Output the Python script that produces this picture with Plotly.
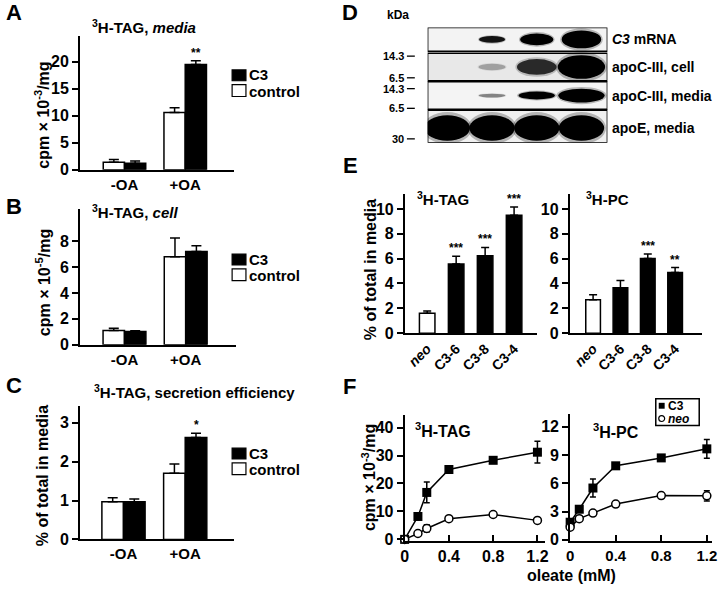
import plotly.graph_objects as go

W, H = 722, 594
FONT = "Liberation Sans, Arial, sans-serif"

# ---------------- data ----------------
oa_groups = ["-OA", "+OA"]

a_control = [1.4, 10.6]
a_control_err = [0.5, 0.9]
a_c3 = [1.2, 19.5]
a_c3_err = [0.4, 0.7]
a_c3_sig = ["", "**"]

b_control = [1.1, 6.8]
b_control_err = [0.17, 1.45]
b_c3 = [1.02, 7.2]
b_c3_err = [0.06, 0.45]

c_control = [0.97, 1.7]
c_control_err = [0.1, 0.24]
c_c3 = [0.97, 2.62]
c_c3_err = [0.07, 0.11]
c_c3_sig = ["", "*"]

blot_lanes = ["neo", "C3-6", "C3-8", "C3-4"]
blot_rows = ["<i>C3</i> mRNA", "apoC-III, cell", "apoC-III, media", "apoE, media"]
band_c3_mrna = [0.0, 0.3, 0.6, 1.0]
band_apoc3_cell = [0.02, 0.2, 0.6, 1.0]
band_apoc3_media = [0.02, 0.2, 0.5, 1.0]
band_apoe_media = [1.0, 1.0, 1.0, 1.0]
kda_labels = ["14.3", "6.5", "14.3", "6.5", "30"]

e_lines = ["<i>neo</i>", "C3-6", "C3-8", "C3-4"]
e_tag = [1.6, 5.57, 6.23, 9.5]
e_tag_err = [0.18, 0.62, 0.67, 0.65]
e_tag_sig = ["", "***", "***", "***"]
e_pc = [2.7, 3.66, 6.02, 4.88]
e_pc_err = [0.4, 0.58, 0.35, 0.4]
e_pc_sig = ["", "", "***", "**"]

f_tag_oleate = [0, 0.12, 0.2, 0.4, 0.8, 1.2]
f_tag_c3 = [0, 8.2, 16.8, 25.0, 28.3, 31.2]
f_tag_c3_err = [0.3, 0.8, 3.7, 0.8, 0.8, 3.9]
f_tag_neo = [0, 2.1, 3.9, 7.4, 8.9, 6.8]
f_tag_neo_err = [0.2, 0.5, 1.3, 0.6, 1.0, 0.8]

f_pc_oleate = [0, 0.08, 0.2, 0.4, 0.8, 1.2]
f_pc_c3 = [1.87, 3.25, 5.5, 7.86, 8.7, 9.66]
f_pc_c3_err = [0.3, 0.3, 0.95, 0.3, 0.2, 1.0]
f_pc_neo = [1.35, 2.25, 2.84, 3.8, 4.7, 4.67]
f_pc_neo_err = [0.15, 0.15, 0.2, 0.2, 0.2, 0.55]

f_tag_ticks = [0, 10, 20, 30, 40]
f_pc_ticks = [0, 3, 6, 9, 12]
f_x_ticks = [0, 0.4, 0.8, 1.2]
f_x_ticktext = ["0", "0.4", "0.8", "1.2"]


# ---------------- helpers ----------------
def fx(p):
    return p / W


def fy(p):
    return 1 - p / H


def bfont(size, family=FONT):
    return dict(family=family, size=size, color="black", weight="bold")


def ann(text, x, y, size=15, xanchor="center", yanchor="middle", angle=0):
    return dict(text=text, x=fx(x), y=fy(y), xref="paper", yref="paper",
                showarrow=False, xanchor=xanchor, yanchor=yanchor,
                textangle=angle, font=bfont(size), borderpad=0)


def yax(dom_bottom, dom_top, rng, tickvals, anchor, size=16):
    return dict(domain=[fy(dom_bottom), fy(dom_top)], range=rng, anchor=anchor,
                showline=True, linecolor="black", linewidth=2, ticks="outside",
                ticklen=6, tickwidth=2, tickcolor="black", showgrid=False,
                zeroline=False, tickvals=tickvals, tickfont=bfont(size))


def xax(dom_left, dom_right, rng, tickvals, ticktext, anchor, size=15, angle=0, ticks=""):
    return dict(domain=[fx(dom_left), fx(dom_right)], range=rng, anchor=anchor,
                showline=True, linecolor="black", linewidth=2, ticks=ticks,
                ticklen=6, tickwidth=2, tickcolor="black",
                showgrid=False, zeroline=False, tickvals=tickvals,
                ticktext=ticktext, tickfont=bfont(size), tickangle=angle)


fig = go.Figure()
annotations = []
shapes = []

# ---------------- panels A, B, C (grouped bars) ----------------
BW = 0.35
abc = [
    ("x", "y", a_control, a_control_err, a_c3, a_c3_err, a_c3_sig),
    ("x2", "y2", b_control, b_control_err, b_c3, b_c3_err, None),
    ("x3", "y3", c_control, c_control_err, c_c3, c_c3_err, c_c3_sig),
]
for xa, ya, ctl, ctl_e, c3, c3_e, sig in abc:
    fig.add_trace(go.Bar(x=[0, 1], y=ctl, xaxis=xa, yaxis=ya, width=BW, offset=-BW,
                         marker=dict(color="white", line=dict(color="black", width=1.5)),
                         error_y=dict(type="data", symmetric=False, array=ctl_e,
                                      arrayminus=[0, 0], color="black", thickness=1.5, width=5),
                         showlegend=False))
    fig.add_trace(go.Bar(x=[0, 1], y=c3, xaxis=xa, yaxis=ya, width=BW, offset=0,
                         marker=dict(color="black", line=dict(color="black", width=1.5)),
                         error_y=dict(type="data", symmetric=False, array=c3_e,
                                      arrayminus=[0, 0], color="black", thickness=1.5, width=5),
                         showlegend=False))
    if sig:
        for i, s in enumerate(sig):
            if s:
                annotations.append(dict(text=s, x=i + BW / 2, y=c3[i] + c3_e[i], xref=xa, yref=ya,
                                        showarrow=False, yanchor="bottom", yshift=-1,
                                        font=bfont(12)))

fig.update_layout(
    xaxis=xax(77, 233, [-0.732, 1.805], [0, 1], oa_groups, "y"),
    yaxis=yax(172.3, 37, [0, 24.7], [0, 5, 10, 15, 20], "x"),
    xaxis2=xax(77, 235, [-0.726, 1.823], [0, 1], oa_groups, "y2"),
    yaxis2=yax(350, 212, [0, 10.5], [0, 2, 4, 6, 8], "x2"),
    xaxis3=xax(77, 233, [-0.704, 1.792], [0, 1], oa_groups, "y3"),
    yaxis3=yax(547.7, 412, [0, 3.44], [0, 1, 2, 3], "x3"),
)

# titles, y labels, legends A-C
annotations += [
    ann("<sup>3</sup>H-TAG, <i>media</i>", 88, 27, 15, xanchor="left"),
    ann("<sup>3</sup>H-TAG, <i>cell</i>", 88, 215, 15, xanchor="left"),
    ann("<sup>3</sup>H-TAG, secretion efficiency", 90, 398, 15, xanchor="left"),
    ann("cpm × 10<sup>-3</sup>/mg", 39, 117, 16, angle=-90),
    ann("cpm × 10<sup>-5</sup>/mg", 39, 287, 16, angle=-90),
    ann("% of total in media", 39, 483, 16, angle=-90),
]
for top in (71, 258, 455):
    shapes.append(dict(type="rect", xref="paper", yref="paper", x0=fx(231), x1=fx(245),
                       y0=fy(top), y1=fy(top + 11), fillcolor="black",
                       line=dict(color="black", width=1.2)))
    shapes.append(dict(type="rect", xref="paper", yref="paper", x0=fx(231), x1=fx(245),
                       y0=fy(top + 15), y1=fy(top + 27), fillcolor="white",
                       line=dict(color="black", width=1.2)))
    annotations.append(ann("C3", 247, top + 5, 15, xanchor="left"))
    annotations.append(ann("control", 247, top + 22, 15, xanchor="left"))

# panel letters
for letter, x, y in [("A", 10, 13), ("B", 10, 210), ("C", 10, 391),
                     ("D", 350, 13), ("E", 351, 168), ("F", 350, 392)]:
    annotations.append(ann(letter, x, y, 22))

# ---------------- panel D (blot) ----------------
LANE_PX = 45.27
fig.add_trace(go.Scatter(x=[0, 3], y=[40, 131], xaxis="x4", yaxis="y4", mode="markers",
                         marker=dict(size=1, color="rgba(0,0,0,0)"), hoverinfo="skip",
                         showlegend=False))
fig.update_layout(
    xaxis4=dict(domain=[fx(429), fx(611)], range=[-0.44, 3.58], visible=False, anchor="y4"),
    yaxis4=dict(domain=[fy(145), fy(28)], range=[145, 28], visible=False, anchor="x4"),
)
row_box = [(28, 52), (54, 82), (83, 111), (112, 145)]
row_center = [40, 68, 97, 130]
row_wmax = [40, 48, 47, 46]
row_hmax = [18, 24, 14, 26]
row_gain = [3.0, 1.3, 2.0, 1.0]
row_bg = ["#f3f3f3", "#e8e8e8", "#f4f4f4", "#f0f0f0"]
row_bands = [band_c3_mrna, band_apoc3_cell, band_apoc3_media, band_apoe_media]

for (t, b), bg in zip(row_box, row_bg):
    shapes.append(dict(type="rect", xref="x4", yref="y4", x0=-0.44, x1=3.58, y0=t, y1=b,
                       fillcolor=bg, line=dict(width=0)))
for r, bands in enumerate(row_bands):
    for lane, v in enumerate(bands):
        if v <= 0.03:
            continue
        dark = min(1.0, row_gain[r] * v)
        w = row_wmax[r] * v ** 0.35
        h = max(3.0, row_hmax[r] * v ** 0.8)
        for scale_w, scale_h, op in [(1.08, 1.25, 0.25 * dark), (1.0, 1.0, dark)]:
            hw = w * scale_w / 2 / LANE_PX
            hh = h * scale_h / 2
            shapes.append(dict(type="circle", xref="x4", yref="y4",
                               x0=lane - hw, x1=lane + hw,
                               y0=row_center[r] - hh, y1=row_center[r] + hh,
                               fillcolor="black", opacity=op, line=dict(width=0)))
for t, b in row_box:
    shapes.append(dict(type="rect", xref="x4", yref="y4", x0=-0.44, x1=3.58, y0=t, y1=b,
                       fillcolor="rgba(0,0,0,0)", line=dict(color="black", width=1.5)))
for i, lbl in enumerate(blot_lanes):
    annotations.append(dict(text=lbl, x=i, y=15, xref="x4", yref="y4", showarrow=False,
                            font=bfont(15)))
for r, lbl in enumerate(blot_rows):
    annotations.append(ann(lbl, 615, row_center[r], 14, xanchor="left"))
annotations.append(ann("kDa", 399, 15, 12))
for lbl, y in zip(kda_labels, [57, 79, 90, 110, 141]):
    annotations.append(ann(lbl, 406, y, 11, xanchor="right"))
    shapes.append(dict(type="line", xref="paper", yref="paper", x0=fx(408), x1=fx(416),
                       y0=fy(y), y1=fy(y), line=dict(color="black", width=1.3)))

# ---------------- panel E ----------------
EW = 0.536
for xa, ya, vals, errs, sig in [("x5", "y5", e_tag, e_tag_err, e_tag_sig),
                                 ("x6", "y6", e_pc, e_pc_err, e_pc_sig)]:
    fig.add_trace(go.Bar(x=[0, 1, 2, 3], y=vals, xaxis=xa, yaxis=ya, width=EW, offset=-EW / 2,
                         marker=dict(color=["white", "black", "black", "black"],
                                     line=dict(color="black", width=1.5)),
                         error_y=dict(type="data", symmetric=False, array=errs,
                                      arrayminus=[0, 0, 0, 0], color="black",
                                      thickness=1.5, width=4),
                         showlegend=False))
    for i, s in enumerate(sig):
        if s:
            annotations.append(dict(text=s, x=i, y=vals[i] + errs[i], xref=xa, yref=ya,
                                    showarrow=False, yanchor="bottom", yshift=-1,
                                    font=bfont(12)))
fig.update_layout(
    xaxis5=xax(406, 540, [-0.768, 3.80], [0, 1, 2, 3], e_lines, "y5", size=14, angle=-45),
    yaxis5=yax(338.3, 197, [0, 11.2], [0, 2, 4, 6, 8, 10], "x5"),
    xaxis6=xax(573, 707, [-0.85, 3.99], [0, 1, 2, 3], e_lines, "y6", size=14, angle=-45),
    yaxis6=yax(338.3, 197, [0, 11.2], [0, 2, 4, 6, 8, 10], "x6"),
)
annotations += [
    ann("<sup>3</sup>H-TAG", 417, 202, 15, xanchor="left"),
    ann("<sup>3</sup>H-PC", 588, 202, 15, xanchor="left"),
    ann("% of total in media", 371, 274, 16, angle=-90),
]

# ---------------- panel F ----------------
for xa, ya, xs, c3, c3e, neo, neoe in [
        ("x7", "y7", f_tag_oleate, f_tag_c3, f_tag_c3_err, f_tag_neo, f_tag_neo_err),
        ("x8", "y8", f_pc_oleate, f_pc_c3, f_pc_c3_err, f_pc_neo, f_pc_neo_err)]:
    fig.add_trace(go.Scatter(x=xs, y=c3, xaxis=xa, yaxis=ya, mode="lines+markers",
                             line=dict(color="black", width=1.5),
                             marker=dict(symbol="square", size=9, color="black"),
                             error_y=dict(type="data", array=c3e, color="black",
                                          thickness=1.5, width=3),
                             cliponaxis=False, showlegend=False))
    fig.add_trace(go.Scatter(x=xs, y=neo, xaxis=xa, yaxis=ya, mode="lines+markers",
                             line=dict(color="black", width=1.5),
                             marker=dict(symbol="circle", size=8, color="white",
                                         line=dict(color="black", width=1.5)),
                             error_y=dict(type="data", array=neoe, color="black",
                                          thickness=1.5, width=3),
                             cliponaxis=False, showlegend=False))
fig.update_layout(
    xaxis7=xax(405.7, 548, [0, 1.27], f_x_ticks, f_x_ticktext, "y7", size=16, ticks="inside"),
    yaxis7=yax(549.1, 421.7, [-0.5, 44.4], f_tag_ticks, "x7", size=16),
    xaxis8=xax(573.3, 717, [0, 1.246], f_x_ticks, f_x_ticktext, "y8", size=15, ticks="inside"),
    yaxis8=yax(549.1, 420, [-0.1, 13.4], f_pc_ticks, "x8", size=16),
)
annotations += [
    ann("<sup>3</sup>H-TAG", 415, 437, 16, xanchor="left"),
    ann("<sup>3</sup>H-PC", 595, 438, 16, xanchor="left"),
    ann("cpm × 10<sup>-3</sup>/mg", 369, 485, 16, angle=-90),
    ann("oleate (mM)", 575, 584, 16),
    ann("C3", 671, 412, 12, xanchor="left"),
    ann("<i>neo</i>", 671, 425, 12, xanchor="left"),
]
shapes += [
    dict(type="rect", xref="paper", yref="paper", x0=fx(660), x1=fx(704), y0=fy(405),
         y1=fy(432), fillcolor="white", line=dict(color="black", width=1.5), layer="below"),
    dict(type="rect", xref="paper", yref="paper", x0=fx(663), x1=fx(669), y0=fy(409),
         y1=fy(415), fillcolor="black", line=dict(width=0)),
    dict(type="circle", xref="paper", yref="paper", x0=fx(663), x1=fx(669), y0=fy(422),
         y1=fy(428), fillcolor="white", line=dict(color="black", width=1.2)),
]

fig.update_layout(
    width=W, height=H, margin=dict(l=0, r=0, t=0, b=0),
    paper_bgcolor="white", plot_bgcolor="rgba(0,0,0,0)",
    font=bfont(14), barmode="overlay", showlegend=False,
    annotations=annotations, shapes=shapes,
)
fig.write_html("out.html", config={"displayModeBar": False},
               post_script="document.body.style.margin='0px';"
                           "document.body.style.overflow='hidden';")
